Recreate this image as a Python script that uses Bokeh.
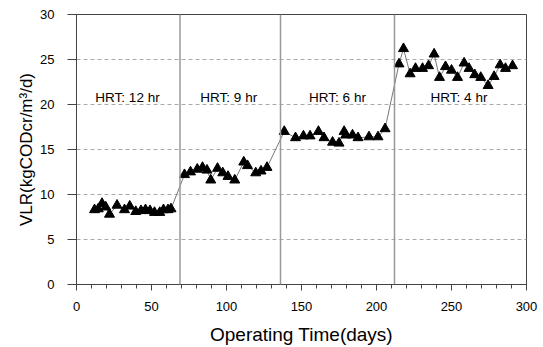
from bokeh.plotting import figure
from bokeh.models import Span, FixedTicker, ColumnDataSource
from bokeh.core.properties import value
from bokeh.embed import file_html
from bokeh.resources import INLINE

days = [12, 14.5, 17, 19.5, 22, 27, 32, 35.5, 39.5, 43, 46, 49, 52, 55.5, 58, 61, 63,
        72, 76, 80.5, 84, 87, 89.5, 94, 97.5, 101, 105.5, 111.5, 114, 119.5, 123, 127,
        138.5, 146, 151.3, 155.7, 161.3, 165, 170.7, 175, 178.4, 179.5, 184, 187.7, 195, 201, 205.7,
        215, 218, 222.4, 226, 230.7, 234.7, 238.4, 242, 246, 250, 254, 258.4, 261.7, 265.5,
        269.5, 274.4, 278.4, 282.4, 286, 290.7]
vlr = [8.3, 8.4, 9.0, 8.6, 7.8, 8.8, 8.3, 8.7, 8.1, 8.2, 8.3, 8.2, 8.0, 8.0, 8.3, 8.3, 8.4,
       12.2, 12.5, 12.8, 13.0, 12.7, 11.6, 12.9, 12.4, 12.0, 11.6, 13.6, 13.2, 12.4, 12.6, 13.0,
       17.0, 16.3, 16.5, 16.5, 17.0, 16.3, 15.8, 15.7, 17.0, 16.6, 16.6, 16.3, 16.4, 16.4, 17.3,
       24.5, 26.2, 23.4, 24.0, 24.0, 24.3, 25.6, 23.0, 24.2, 23.8, 23.0, 24.6, 24.0, 23.3,
       23.0, 22.1, 23.1, 24.4, 24.0, 24.3]

hrt_changes = [69, 136, 212]
hrt_labels = ["HRT: 12 hr", "HRT: 9 hr", "HRT: 6 hr", "HRT: 4 hr"]
hrt_label_x = [34, 101.5, 174, 255]
hrt_label_y = [20.8, 20.8, 20.8, 20.8]

x_ticks = [0, 50, 100, 150, 200, 250, 300]
y_ticks = [0, 5, 10, 15, 20, 25, 30]
x_title = "Operating Time(days)"
y_title = "VLR(kgCODcr/m³/d)"

FONT = "Liberation Sans"

p = figure(width=543, height=347, x_range=(0, 300), y_range=(0, 30),
           output_backend="svg", toolbar_location=None,
           min_border_left=76, min_border_right=17, min_border_top=14, min_border_bottom=63)
p.background_fill_color = "white"
p.border_fill_color = "white"
p.outline_line_color = "#444444"
p.outline_line_width = 1

p.xgrid.grid_line_color = None
p.ygrid.grid_line_color = "#aaaaaa"
p.ygrid.grid_line_dash = "4 3"
p.ygrid.grid_line_width = 1

for ax in (p.xaxis[0], p.yaxis[0]):
    ax.axis_line_color = "#444444"
    ax.major_tick_line_color = "#444444"
    ax.minor_tick_line_color = "#444444"
    ax.major_label_text_font = FONT
    ax.major_label_text_font_size = "13px"
    ax.major_label_text_color = "black"
    ax.axis_label_text_font = FONT
    ax.axis_label_text_font_style = "normal"
    ax.axis_label_text_color = "black"

p.xaxis.axis_label_text_font_size = "19px"
p.yaxis.axis_label_text_font_size = "17px"
p.xaxis.ticker = FixedTicker(ticks=x_ticks, minor_ticks=list(range(0, 301, 10)))
p.yaxis.ticker = FixedTicker(ticks=y_ticks)
p.yaxis.minor_tick_line_color = None
p.xaxis.major_tick_out = 6
p.xaxis.major_tick_in = 0
p.xaxis.minor_tick_out = 4
p.xaxis.minor_tick_in = 0
p.yaxis.major_tick_out = 9
p.yaxis.major_tick_in = 0
p.xaxis.major_label_standoff = 11
p.yaxis.major_label_standoff = 13
p.xaxis.axis_label = x_title
p.yaxis.axis_label = y_title
p.xaxis.axis_label_standoff = 10
p.yaxis.axis_label_standoff = 1

for d in hrt_changes:
    p.add_layout(Span(location=d, dimension="height", line_color="#999999", line_width=1.5))

src = ColumnDataSource(dict(x=days, y=vlr))
p.line("x", "y", source=src, line_color="#777777", line_width=1)
p.scatter("x", "y", source=src, marker="triangle", size=10, fill_color="black", line_color="black")

p.text(x=hrt_label_x, y=hrt_label_y, text=hrt_labels, text_align="center", text_baseline="middle",
       text_font=value(FONT), text_font_size="13.5px", text_color="black")

open("out.html", "w").write(file_html(p, INLINE))
